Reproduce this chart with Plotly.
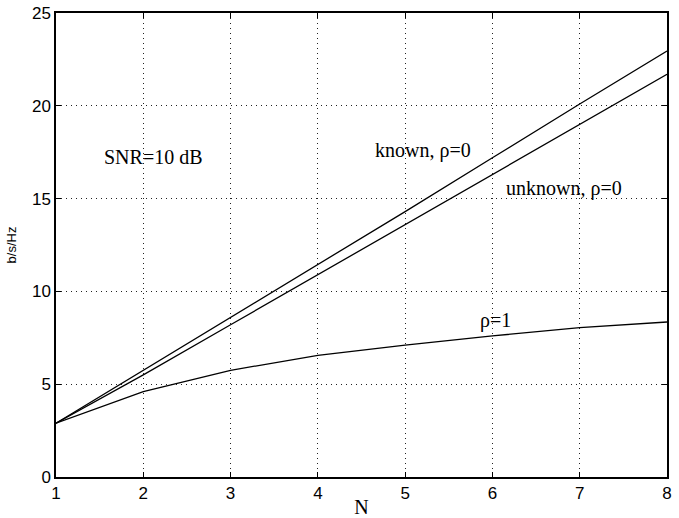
import plotly.graph_objects as go

N = [1, 2, 3, 4, 5, 6, 7, 8]
known_rho0 = [2.9, 5.75, 8.6, 11.45, 14.3, 17.2, 20.1, 22.95]
unknown_rho0 = [2.9, 5.5, 8.2, 10.9, 13.6, 16.3, 19.0, 21.7]
rho1 = [2.9, 4.6, 5.75, 6.55, 7.1, 7.6, 8.05, 8.35]

x_ticks = [1, 2, 3, 4, 5, 6, 7, 8]
y_ticks = [0, 5, 10, 15, 20, 25]

fig = go.Figure()
for ys in (known_rho0, unknown_rho0, rho1):
    fig.add_trace(go.Scatter(x=N, y=ys, mode="lines",
                             line=dict(color="black", width=1.3),
                             showlegend=False))

serif = dict(family="Liberation Serif, Times New Roman, serif", size=20, color="black")
anns = [
    (2.12, 17.25, "SNR=10 dB"),
    (5.2, 17.6, "known, ρ=0"),
    (6.82, 15.55, "unknown, ρ=0"),
    (6.04, 8.45, "ρ=1"),
]
for x, y, t in anns:
    fig.add_annotation(x=x, y=y, text=t, showarrow=False, font=serif)

axis_common = dict(
    showline=True, linecolor="black", linewidth=1.5, mirror="ticks",
    ticks="inside", ticklen=5, tickcolor="black",
    showgrid=True, gridcolor="#222", griddash="1px,4px", gridwidth=1.3,
    zeroline=False, automargin=False, ticklabeloverflow="allow",
    tickfont=dict(family="Liberation Sans, Arial, sans-serif", size=17, color="black"),
)
fig.update_xaxes(range=[1, 8], tickvals=x_ticks, **axis_common,
                 title=dict(text="N", font=serif, standoff=12))
fig.update_yaxes(range=[0, 25], tickvals=y_ticks, **axis_common,
                 title=dict(text="b/s/Hz", font=dict(family="Liberation Sans, Arial, sans-serif",
                                                      size=13, color="black"), standoff=12))

fig.update_layout(
    width=679, height=518,
    margin=dict(l=56, r=12, t=13, b=41),
    plot_bgcolor="white", paper_bgcolor="white",
)

fig.write_html("out.html", config={"displayModeBar": False},
               post_script="document.body.style.margin='0';document.body.style.overflow='hidden';")
